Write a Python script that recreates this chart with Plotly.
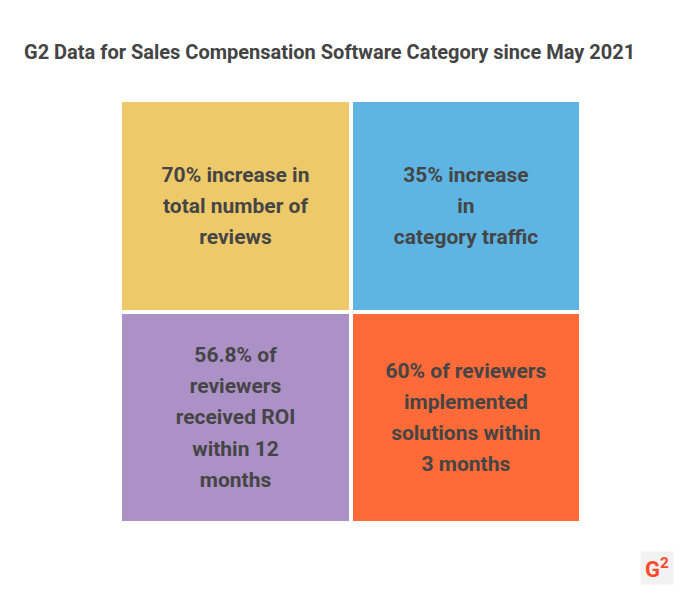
import plotly.graph_objects as go

title = "G2 Data for Sales Compensation Software Category since May 2021"

columns = [0, 1]
top_labels = ["70% increase in<br>total number of<br>reviews",
              "35% increase<br>in<br>category traffic"]
bottom_labels = ["56.8% of<br>reviewers<br>received ROI<br>within 12<br>months",
                 "60% of reviewers<br>implemented<br>solutions within<br>3 months"]
top_values = [1, 1]
bottom_values = [1, 1]
top_colors = ["#EEC96A", "#5EB5E3"]
bottom_colors = ["#AC91C6", "#FE6A38"]

TEXT_COLOR = "#454545"

# page has an 8px body margin
OFF = 8
L, T, W, H = 120 - OFF, 100 - OFF, 461, 423


def styled(label, size=21):
    return "<br>".join(f"<span style='font-size:{size}px'>{ln}</span>" for ln in label.split("<br>"))


fig = go.Figure()
for vals, labels, colors in [(bottom_values, bottom_labels, bottom_colors),
                             (top_values, top_labels, top_colors)]:
    fig.add_trace(go.Bar(
        x=columns, y=vals,
        text=[styled(t) for t in labels],
        textposition="inside", insidetextanchor="middle", textangle=0,
        textfont=dict(family="Roboto", size=24, color=TEXT_COLOR, weight="bold"),
        marker=dict(color=colors, line=dict(color="white", width=4)),
        width=1, hoverinfo="skip", showlegend=False,
    ))

fig.update_layout(
    barmode="stack", bargap=0,
    width=700, height=598,
    margin=dict(l=L, r=700 - L - W, t=T, b=598 - T - H),
    paper_bgcolor="white", plot_bgcolor="white",
    xaxis=dict(range=[-0.5, 1.5], visible=False, fixedrange=True),
    yaxis=dict(range=[0, 2], visible=False, fixedrange=True),
    title=dict(text=title, xref="container", yref="container",
               x=(24 - OFF) / 700, xanchor="left", y=1 - (52 - OFF) / 598, yanchor="middle",
               font=dict(family="Roboto", size=20, color="#444444", weight="bold")),
)

fig.add_annotation(
    xref="paper", yref="paper", x=(657 - OFF - L) / W, y=(T + H - (568 - OFF)) / H,
    text="<b>G</b><sup><b>2</b></sup>", showarrow=False,
    font=dict(family="Roboto", size=22, color="#FF492C"),
    bgcolor="#F2F2F2", width=30, height=30, xanchor="center", yanchor="middle",
)

fig.write_html("out.html")
